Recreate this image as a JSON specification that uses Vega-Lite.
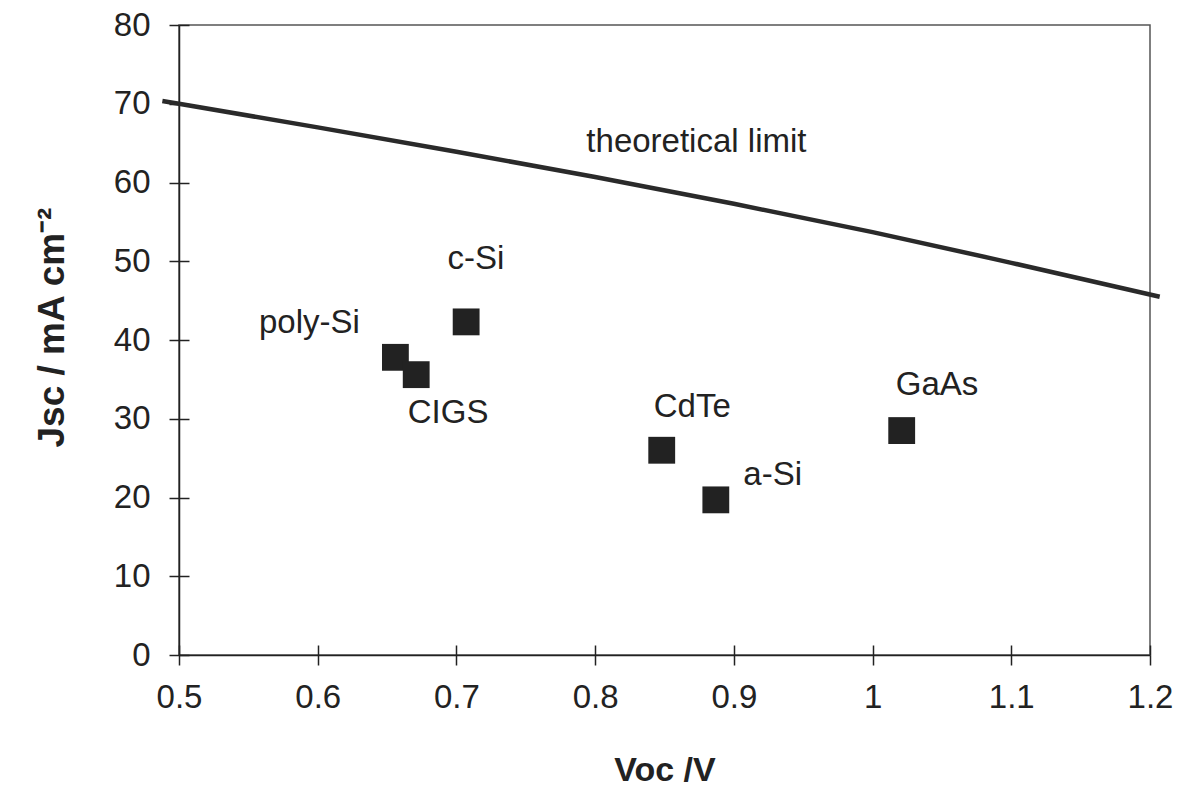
{
  "$schema": "https://vega.github.io/schema/vega-lite/v6.json",
  "width": 971,
  "height": 630,
  "autosize": {"type": "none"},
  "padding": {"left": 179, "top": 25, "right": 30, "bottom": 140},
  "background": "white",
  "config": {
    "view": {"stroke": "#555", "strokeWidth": 1.5},
    "font": "Liberation Sans"
  },
  "datasets": {
    "limit": [
      {"voc": 0.488, "jsc": 70.35},
      {"voc": 0.5, "jsc": 70.0},
      {"voc": 0.6, "jsc": 67.0},
      {"voc": 0.7, "jsc": 63.9},
      {"voc": 0.8, "jsc": 60.7},
      {"voc": 0.9, "jsc": 57.3},
      {"voc": 1.0, "jsc": 53.7},
      {"voc": 1.1, "jsc": 49.8},
      {"voc": 1.207, "jsc": 45.5}
    ],
    "cells": [
      {"cell": "poly-Si", "voc": 0.656, "jsc": 37.8},
      {"cell": "CIGS", "voc": 0.671, "jsc": 35.6},
      {"cell": "c-Si", "voc": 0.707, "jsc": 42.3},
      {"cell": "CdTe", "voc": 0.848, "jsc": 26.0},
      {"cell": "a-Si", "voc": 0.887, "jsc": 19.7},
      {"cell": "GaAs", "voc": 1.021, "jsc": 28.5}
    ],
    "labels": [
      {"label": "poly-Si", "voc": 0.594, "jsc": 40.9},
      {"label": "CIGS", "voc": 0.694, "jsc": 29.5},
      {"label": "c-Si", "voc": 0.714, "jsc": 49.0},
      {"label": "CdTe", "voc": 0.870, "jsc": 30.2},
      {"label": "a-Si", "voc": 0.928, "jsc": 21.6},
      {"label": "GaAs", "voc": 1.0465, "jsc": 33.0},
      {"label": "theoretical limit", "voc": 0.873, "jsc": 63.9}
    ]
  },
  "resolve": {"axis": {"x": "independent", "y": "independent"}},
  "layer": [
    {
      "data": {"name": "limit"},
      "mark": {"type": "line", "color": "#2a2a2a", "strokeWidth": 4.5, "clip": false, "interpolate": "monotone"},
      "encoding": {
        "x": {
          "field": "voc",
          "type": "quantitative",
          "scale": {"domain": [0.5, 1.2], "nice": false, "zero": false},
          "axis": {
            "title": "Voc /V",
            "orient": "bottom",
            "values": [0.5, 0.6, 0.7, 0.8, 0.9, 1.0, 1.1, 1.2],
            "format": "~g",
            "grid": false,
            "labelFontSize": 33,
            "labelColor": "#222",
            "labelPadding": 16,
            "labelFlush": false,
            "labelOverlap": false,
            "tickSize": 10,
            "tickColor": "#222",
            "tickWidth": 1.5,
            "domainColor": "#222",
            "domainWidth": 1.5,
            "titleFontSize": 34,
            "titleFontWeight": "bold",
            "titleColor": "#222",
            "titleBaseline": "alphabetic",
            "titleY": 125
          }
        },
        "y": {
          "field": "jsc",
          "type": "quantitative",
          "scale": {"domain": [0, 80], "nice": false, "zero": true},
          "axis": {
            "title": "Jsc / mA cm⁻²",
            "orient": "left",
            "values": [0, 10, 20, 30, 40, 50, 60, 70, 80],
            "grid": false,
            "labelFontSize": 33,
            "labelColor": "#222",
            "labelPadding": 19,
            "labelFlush": false,
            "labelOverlap": false,
            "tickSize": 10,
            "tickColor": "#222",
            "tickWidth": 1.5,
            "domainColor": "#222",
            "domainWidth": 1.5,
            "titleFontSize": 37,
            "titleFontWeight": "bold",
            "titleColor": "#222",
            "titleBaseline": "alphabetic",
            "titleAngle": 270,
            "titleX": -116,
            "titleY": 302
          }
        }
      }
    },
    {
      "data": {"name": "cells"},
      "mark": {"type": "square", "size": 720, "color": "#222", "filled": true, "opacity": 1},
      "encoding": {
        "x": {
          "field": "voc",
          "type": "quantitative",
          "axis": {
            "orient": "bottom",
            "title": null,
            "values": [0.5, 0.6, 0.7, 0.8, 0.9, 1.0, 1.1, 1.2],
            "labels": false,
            "domain": false,
            "grid": false,
            "offset": -10,
            "tickSize": 10,
            "tickColor": "#222",
            "tickWidth": 1.5
          }
        },
        "y": {
          "field": "jsc",
          "type": "quantitative",
          "axis": {
            "orient": "left",
            "title": null,
            "values": [0, 10, 20, 30, 40, 50, 60, 70, 80],
            "labels": false,
            "domain": false,
            "grid": false,
            "offset": -10,
            "tickSize": 10,
            "tickColor": "#222",
            "tickWidth": 1.5
          }
        }
      }
    },
    {
      "data": {"name": "labels"},
      "mark": {"type": "text", "fontSize": 33, "align": "center", "baseline": "alphabetic", "color": "#222"},
      "encoding": {
        "x": {"field": "voc", "type": "quantitative", "axis": null},
        "y": {"field": "jsc", "type": "quantitative", "axis": null},
        "text": {"field": "label", "type": "nominal"}
      }
    }
  ]
}
